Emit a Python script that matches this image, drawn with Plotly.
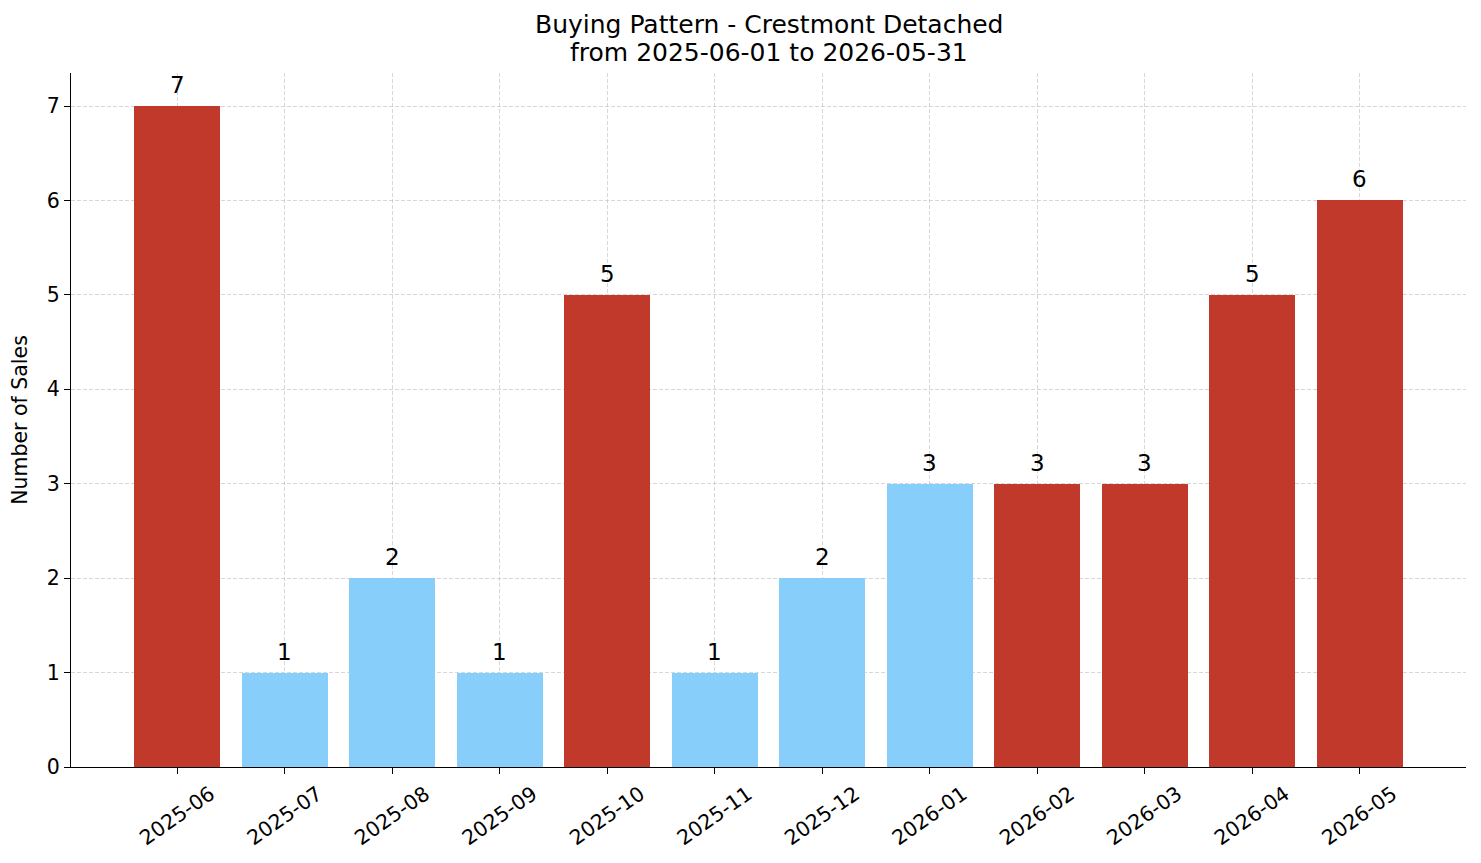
import plotly.graph_objects as go

months = ["2025-06", "2025-07", "2025-08", "2025-09", "2025-10", "2025-11",
          "2025-12", "2026-01", "2026-02", "2026-03", "2026-04", "2026-05"]
sales = [7, 1, 2, 1, 5, 1, 2, 3, 3, 3, 5, 6]
bar_colors = ["#c0392b", "#87cefa", "#87cefa", "#87cefa", "#c0392b", "#87cefa",
              "#87cefa", "#87cefa", "#c0392b", "#c0392b", "#c0392b", "#c0392b"]
y_ticks = [0, 1, 2, 3, 4, 5, 6, 7]
title_lines = ["Buying Pattern - Crestmont Detached", "from 2025-06-01 to 2026-05-31"]

FONT = "DejaVu Sans"
L, R, T, B = 71, 15, 73, 96
W, H = 1481, 863
PH = H - T - B

fig = go.Figure()
xs = list(range(len(months)))
fig.add_trace(go.Bar(
    x=xs,
    y=sales,
    width=0.8,
    marker=dict(color=bar_colors, line=dict(width=0)),
    cliponaxis=False,
    hoverinfo="x+y",
))

annotations = []
for xi, v in zip(xs, sales):
    annotations.append(dict(
        x=xi, y=v, xref="x", yref="y", text=str(v), showarrow=False,
        xanchor="center", yanchor="bottom", yshift=6,
        font=dict(family=FONT, size=23, color="black"),
    ))

title_y_px = [25, 53]
for line, ypx in zip(title_lines, title_y_px):
    annotations.append(dict(
        x=0.5, xref="paper", y=1 + (T - ypx) / PH, yref="paper",
        text=line, showarrow=False, xanchor="center", yanchor="middle",
        font=dict(family=FONT, size=25, color="black"),
    ))

fig.update_layout(
    width=W, height=H,
    margin=dict(l=L, r=R, t=T, b=B),
    plot_bgcolor="white", paper_bgcolor="white",
    font=dict(family=FONT, color="black"),
    showlegend=False,
    bargap=0,
    annotations=annotations,
)

grid_color = "rgba(176,176,176,0.5)"
fig.update_xaxes(
    range=[-0.99, 11.99],
    tickmode="array", tickvals=xs, ticktext=months,
    tickangle=-35, ticklabelshift=33,
    tickfont=dict(family=FONT, size=20.5, color="black"),
    ticks="outside", ticklen=6, tickwidth=1.2, tickcolor="black",
    showline=True, linecolor="black", linewidth=1.3,
    showgrid=True, gridcolor=grid_color, griddash="4px,2px", gridwidth=0.8,
    zeroline=False, layer="above traces",
)
fig.update_yaxes(
    range=[0, 7.35],
    tickmode="array", tickvals=y_ticks,
    tickfont=dict(family=FONT, size=20.5, color="black"),
    ticks="outside", ticklen=6, tickwidth=1.2, tickcolor="black",
    showline=True, linecolor="black", linewidth=1.3,
    showgrid=True, gridcolor=grid_color, griddash="4px,2px", gridwidth=0.8,
    zeroline=False, layer="above traces",
    title=dict(text="Number of Sales", font=dict(family=FONT, size=20.5, color="black"), standoff=13),
)

fig.write_html("out.html")
